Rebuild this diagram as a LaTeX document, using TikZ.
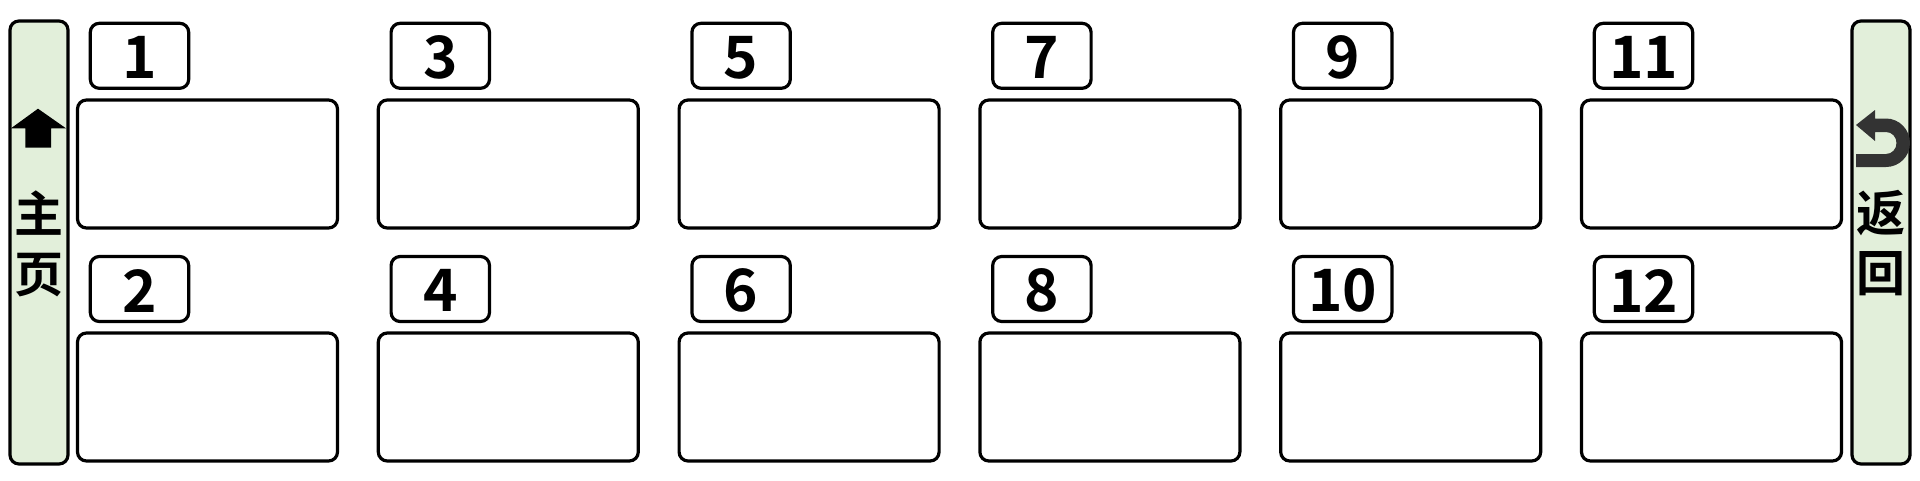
\documentclass[tikz,border=0pt]{standalone}
\usepackage{fontspec}
\newfontfamily\cjk{Noto Sans CJK SC}[BoldFont={Noto Sans CJK SC Bold}]
\definecolor{barfill}{HTML}{E2EFDA}
\definecolor{retcol}{HTML}{333333}
\tikzset{
  x=1pt,y=-1pt,
  boxline/.style={draw=black,line width=3.2pt,rounded corners=9pt},
  panel/.style={boxline,fill=white,minimum width=260pt,minimum height=128pt,inner sep=0pt},
  tag/.style={boxline,fill=white,minimum width=98.4pt,minimum height=65pt,inner sep=0pt,font=\cjk\bfseries\fontsize{58.5}{58.5}\selectfont},
  bar/.style={boxline,fill=barfill,minimum width=58pt,minimum height=443pt,inner sep=0pt},
  barchar/.style={inner sep=0pt,font=\cjk\bfseries\fontsize{49}{49}\selectfont},
}
\begin{document}
\begin{tikzpicture}
\useasboundingbox (0,0) rectangle (1920,480);
\node[bar] (home) at (39,242.5) {};
\node[bar] (back) at (1881,242.5) {};
\foreach \c/\a/\b in {0/1/2,1/3/4,2/5/6,3/7/8,4/9/10,5/11/12}{
  \pgfmathsetmacro\px{207.5+300.8*\c}
  \pgfmathsetmacro\tx{139.5+300.8*\c}
  \node[tag] (t\a) at (\tx,55.8) {};
  \node[panel] (p\a) at (\px,164) {};
  \node[tag] (t\b) at (\tx,289) {};
  \node[panel] (p\b) at (\px,397) {};
  \node[tag,draw=none,fill=none] (n\a) at (\tx,57.6) {\a};
  \node[tag,draw=none,fill=none] (n\b) at (\tx,290.8) {\b};
}
\node[barchar] (c1) at (39,213.5) {主};
\node[barchar] (c2) at (39,275) {页};
\node[barchar] (c3) at (1880.5,213.5) {返};
\node[barchar] (c4) at (1880.5,273.5) {回};
\fill[black] (38,108.7) -- (66,128.3) -- (51,128.3) -- (51,147.7) -- (25.3,147.7) -- (25.3,128.3) -- (11,128.3) -- cycle;
\fill[retcol] (1856,125) -- (1875,110) -- (1875,118.5) -- (1886,118.5)
  .. controls (1899.3,118.5) and (1910,129.7) .. (1910,143)
  .. controls (1910,156.3) and (1899.3,167) .. (1886,167)
  -- (1856,167) -- (1856,154) -- (1886,154)
  .. controls (1892,154) and (1896.5,149) .. (1896.5,143)
  .. controls (1896.5,137) and (1892,132) .. (1886,132)
  -- (1875,132) -- (1875,141) -- cycle;
\end{tikzpicture}
\end{document}
